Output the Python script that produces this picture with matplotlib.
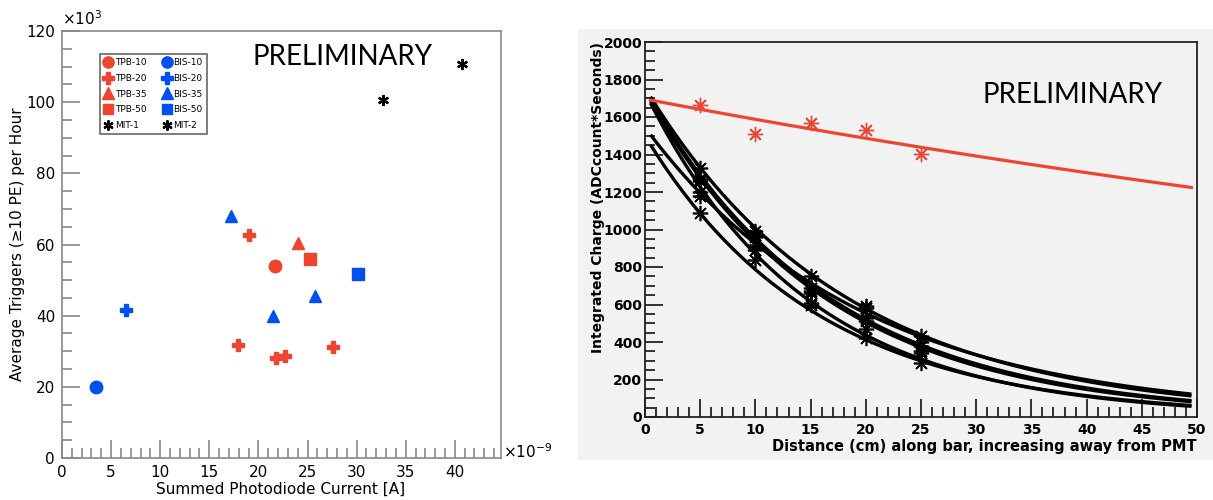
import numpy as np
import matplotlib
matplotlib.use("Agg")
import matplotlib.pyplot as plt
from matplotlib.ticker import MultipleLocator

plt.rcParams['font.family'] = ['DejaVu Sans']

RED = '#ee4430'
BLUE = '#0050f0'

# ---- left panel: triggers vs photodiode current (x in 1e-9 A, y in 1e3) ----
tpb10_x, tpb10_y = [21.7], [54.0]
tpb20_x, tpb20_y = [19.0, 17.9, 21.8, 22.7, 27.6], [62.8, 31.7, 28.1, 28.6, 31.1]
tpb35_x, tpb35_y = [24.0], [60.4]
tpb50_x, tpb50_y = [25.3], [55.8]
bis10_x, bis10_y = [3.5], [19.9]
bis20_x, bis20_y = [6.5], [41.7]
bis35_x, bis35_y = [17.2, 21.5, 25.8], [68.1, 39.8, 45.6]
bis50_x, bis50_y = [30.1], [51.6]
mit1_x, mit1_y = [32.7], [100.6]
mit2_x, mit2_y = [40.7], [110.8]

# ---- right panel: integrated charge vs distance ----
dist = [5, 10, 15, 20, 25]
red_pts = [1665, 1510, 1570, 1530, 1405]
red_fit = (1695.6, 151.9)  # N0, attenuation length
black_pts = [
    [1330, 990, 750, 590, 430],
    [1260, 970, 690, 530, 400],
    [1270, 960, 670, 510, 380],
    [1200, 890, 610, 420, 290],
    [1090, 840, 600, 470, 340],
    [1180, 920, 660, 580, 350],
]
black_fits = [(1756, 18.0), (1747, 16.5), (1737, 16.2), (1733, 14.5),
              (1499, 15.5), (1544, 19.5)]

W, H = 1213, 500
fig = plt.figure(figsize=(W / 100, H / 100), dpi=100)

def box(x0, y0, x1, y1):
    return [x0 / W, 1 - y1 / H, (x1 - x0) / W, (y1 - y0) / H]

# gray pad behind the right plot
bg = fig.add_axes(box(578, 29, W, 460), zorder=-5)
bg.set_facecolor('#f2f2f2')
bg.set_xticks([])
bg.set_yticks([])
for s in bg.spines.values():
    s.set_visible(False)

# ================= left =================
ax = fig.add_axes(box(62, 31, 501, 458))
ms = 9
ax.plot(tpb10_x, tpb10_y, 'o', color=RED, ms=ms, label='TPB-10')
ax.plot(tpb20_x, tpb20_y, 'P', color=RED, ms=ms, label='TPB-20')
ax.plot(tpb35_x, tpb35_y, '^', color=RED, ms=ms, label='TPB-35')
ax.plot(tpb50_x, tpb50_y, 's', color=RED, ms=ms - 1, label='TPB-50')
ax.plot(mit1_x, mit1_y, marker=(6, 2, 0), ls='none', color='black', ms=8, mew=1.6, label='MIT-1')
ax.plot(bis10_x, bis10_y, 'o', color=BLUE, ms=ms, label='BIS-10')
ax.plot(bis20_x, bis20_y, 'P', color=BLUE, ms=ms, label='BIS-20')
ax.plot(bis35_x, bis35_y, '^', color=BLUE, ms=ms, label='BIS-35')
ax.plot(bis50_x, bis50_y, 's', color=BLUE, ms=ms - 1, label='BIS-50')
ax.plot(mit2_x, mit2_y, marker=(6, 2, 0), ls='none', color='black', ms=8, mew=1.6, label='MIT-2')

ax.set_xlim(0, 44.7)
ax.set_ylim(0, 120)
ax.xaxis.set_major_locator(MultipleLocator(5))
ax.xaxis.set_minor_locator(MultipleLocator(1))
ax.yaxis.set_major_locator(MultipleLocator(20))
ax.yaxis.set_minor_locator(MultipleLocator(5))
for s in ax.spines.values():
    s.set_color('#888888')
    s.set_linewidth(1.2)
ax.tick_params(which='both', direction='in', color='#888888', top=False, right=False,
               labelsize=11, width=1.2)
ax.tick_params(which='major', length=13, pad=5)
ax.tick_params(which='minor', length=7)
fig.text(281 / W, 1 - 489 / H, 'Summed Photodiode Current [A]', fontsize=11,
         ha='center', va='center')
fig.text(18 / W, 1 - 244 / H, 'Average Triggers (\u226510 PE) per Hour', fontsize=11,
         rotation=90, ha='center', va='center')
fig.text(62 / W, 1 - 19 / H, '\u00d710$^3$', fontsize=11, va='center', ha='left')
fig.text(503 / W, 1 - 452 / H, '\u00d710$^{-9}$', fontsize=11, va='center', ha='left')
leg = ax.legend(ncol=2, loc='upper left', bbox_to_anchor=((100 - 62) / 439, 1 - (54 - 31) / 427),
                fontsize=6.5, fancybox=False, framealpha=1, edgecolor='#666666',
                markerscale=0.9, handlelength=0.9, handletextpad=0.3, columnspacing=1.8,
                labelspacing=0.75, borderpad=0.45, borderaxespad=0)
leg.get_frame().set_linewidth(1.2)
fig.text(342.5 / W, 1 - 57 / H, 'PRELIMINARY', fontsize=20,
         family=['Lato', 'DejaVu Sans'], ha='center', va='center')

# ================= right =================
ax2 = fig.add_axes(box(645, 42, 1197, 417))
ax2.set_facecolor('#f2f2f2')
xs = np.linspace(0.5, 49.5, 200)
for (n0, lam), pts in zip(black_fits, black_pts):
    ax2.plot(xs, n0 * np.exp(-xs / lam), color='black', lw=2.4, solid_capstyle='butt')
    ax2.plot(dist, pts, ls='none', marker=(8, 2, 0), color='black', ms=11, mew=1.2)
ax2.plot(xs, red_fit[0] * np.exp(-xs / red_fit[1]), color=RED, lw=2.3)
ax2.plot(dist, red_pts, ls='none', marker=(8, 2, 0), color=RED, ms=11, mew=1.0)

ax2.set_xlim(0, 50)
ax2.set_ylim(0, 2000)
ax2.xaxis.set_major_locator(MultipleLocator(5))
ax2.xaxis.set_minor_locator(MultipleLocator(1))
ax2.yaxis.set_major_locator(MultipleLocator(200))
ax2.yaxis.set_minor_locator(MultipleLocator(50))
for s in ax2.spines.values():
    s.set_color('#222222')
    s.set_linewidth(1.3)
ax2.tick_params(which='both', direction='in', color='#222222', top=False, right=False,
                labelsize=10, width=1.3)
ax2.tick_params(which='major', length=13, pad=4)
ax2.tick_params(which='minor', length=7)
ax2.tick_params(axis='y', which='major', pad=2)
for lab in ax2.get_xticklabels() + ax2.get_yticklabels():
    lab.set_fontweight('bold')
fig.text(1197 / W, 1 - 447 / H, 'Distance (cm) along bar, increasing away from PMT',
         fontsize=10.5, fontweight='bold', ha='right', va='center')
fig.text(598 / W, 1 - 42 / H, 'Integrated Charge (ADCcount*Seconds)', rotation=90,
         fontsize=10, fontweight='bold', ha='center', va='top')
fig.text(1073 / W, 1 - 95 / H, 'PRELIMINARY', fontsize=20,
         family=['Lato', 'DejaVu Sans'], ha='center', va='center')

fig.savefig('out.png', dpi=100)
